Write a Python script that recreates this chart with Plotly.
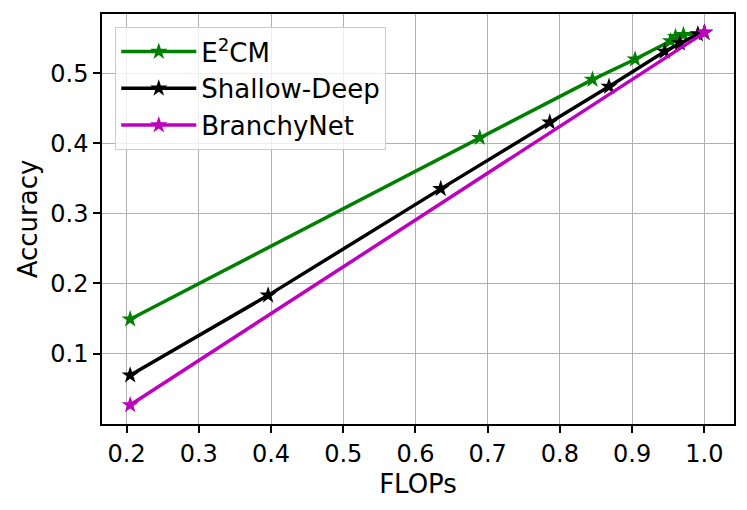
import plotly.graph_objects as go

e2cm_flops = [0.205, 0.689, 0.845, 0.904, 0.953, 0.960, 0.971, 1.0]
e2cm_acc = [0.149, 0.408, 0.491, 0.520, 0.546, 0.552, 0.555, 0.558]

sd_flops = [0.205, 0.396, 0.635, 0.786, 0.868, 0.945, 0.966, 0.991, 1.0]
sd_acc = [0.069, 0.183, 0.335, 0.430, 0.481, 0.531, 0.543, 0.556, 0.558]

bn_flops = [0.205, 1.0]
bn_acc = [0.0265, 0.558]

x_ticks = [0.2, 0.3, 0.4, 0.5, 0.6, 0.7, 0.8, 0.9, 1.0]
y_ticks = [0.1, 0.2, 0.3, 0.4, 0.5]

FONT = "DejaVu Sans"
fig = go.Figure()
series = [
    ("E<sup>2</sup>CM", e2cm_flops, e2cm_acc, "#008000"),
    ("Shallow-Deep", sd_flops, sd_acc, "#000000"),
    ("BranchyNet", bn_flops, bn_acc, "#bf00bf"),
]
for name, xs, ys, col in series:
    fig.add_trace(go.Scatter(
        x=xs, y=ys, name=name, mode="lines+markers",
        line=dict(color=col, width=3.5),
        marker=dict(symbol="star", size=13, color=col),
    ))

axis_common = dict(
    showline=True, linecolor="black", linewidth=1.5, mirror=True,
    ticks="outside", ticklen=7, tickwidth=1.5, tickcolor="black",
    showgrid=True, gridcolor="#b0b0b0", gridwidth=1.2,
    zeroline=False, automargin=False,
    tickfont=dict(family=FONT, size=24, color="black"),
)
fig.update_xaxes(
    range=[0.166, 1.041], tickvals=x_ticks,
    ticktext=[f"{v:.1f}" for v in x_ticks],
    title=dict(text="FLOPs", font=dict(family=FONT, size=26, color="black"), standoff=8),
    **axis_common,
)
fig.update_yaxes(
    range=[-0.0006, 0.5846], tickvals=y_ticks,
    ticktext=[f"{v:.1f}" for v in y_ticks],
    title=dict(text="Accuracy", font=dict(family=FONT, size=26, color="black"), standoff=5),
    **axis_common,
)
fig.update_layout(
    width=747, height=510,
    margin=dict(l=94, r=21, t=6, b=94),
    plot_bgcolor="white", paper_bgcolor="white",
    font=dict(family=FONT, size=24, color="black"),
    legend=dict(
        x=0.021, y=0.968, xanchor="left", yanchor="top",
        bgcolor="rgba(255,255,255,0.8)", bordercolor="#cccccc", borderwidth=1,
        font=dict(family=FONT, size=26, color="black"),
        itemwidth=75, tracegroupgap=0,
    ),
    showlegend=True,
)
fig.write_html("out.html")
